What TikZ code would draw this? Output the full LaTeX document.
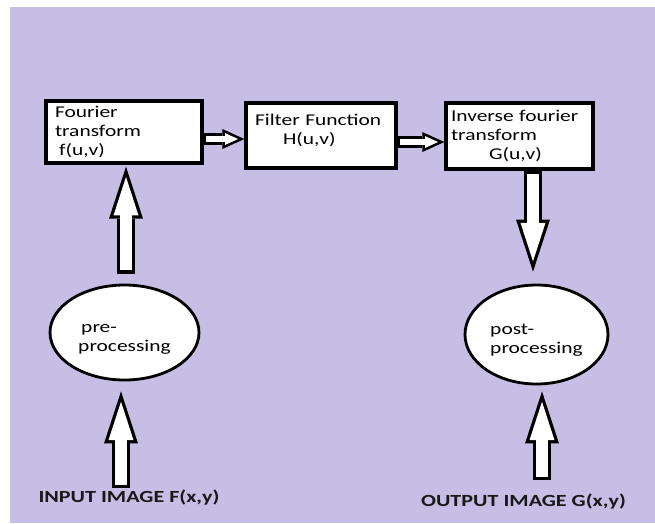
\documentclass[tikz,border=0pt]{standalone}
\usepackage{fontspec}
\setmainfont{Carlito}[FakeStretch=1.3]
\usepackage{tikz}
\usetikzlibrary{arrows.meta,shapes.geometric}
\definecolor{lavender}{RGB}{198,190,228}
\tikzset{
box/.style={draw=black, line width=3.3pt, fill=white, align=left, inner ysep=4pt, font=\fontsize{16.5}{19}\selectfont}, % the three transform boxes
blob/.style={ellipse, draw=black, line width=2.8pt, fill=white, align=left, inner sep=0pt, font=\fontsize{16.5}{19}\selectfont}, % pre / post processing
caption/.style={inner sep=0pt, text=black!90, font=\fontsize{17}{20}\selectfont\bfseries},
% hollow block arrows: black pass first, then the white inside
bigout/.style={line width=18pt, color=black, -{Triangle[length=52pt,width=34pt,line width=0pt]}},
bigin/.style={line width=11.5pt, color=white, shorten <=3.2pt, shorten >=10.3pt, -{Triangle[length=38.5pt,width=25pt,line width=0pt]}},
smallout/.style={line width=12pt, color=black, -{Triangle[length=22pt,width=20pt,line width=0pt]}},
smallin/.style={line width=6.5pt, color=white, shorten <=2.7pt, shorten >=6.3pt, -{Triangle[length=13pt,width=11.8pt,line width=0pt]}}
}
\begin{document}
\begin{tikzpicture}[x=1pt,y=-1pt]
    \useasboundingbox (0,0) rectangle (655,523);
    \fill[white] (0,0) rectangle (655,523);
    \fill[lavender] (10,7) rectangle (655,523);
    % boxes
    \node[box, minimum width=156pt, minimum height=62pt, text width=138pt, inner xsep=9pt] (ft) at (124,132) {Fourier\\transform\\\hspace{4pt}f(u,v)};
    \node[box, minimum width=150pt, minimum height=65pt, text width=132pt, inner xsep=9pt] (filt) at (321,135.5) {Filter Function\\\hspace{28pt}H(u,v)\rule[-12pt]{0pt}{12pt}};
    \node[box, minimum width=147pt, minimum height=66pt, text width=137pt, inner xsep=5pt] (ift) at (519.5,136) {Inverse fourier\\transform\\\hspace{38pt}G(u,v)};
    % ellipses
    \node[blob, minimum width=149pt, minimum height=95pt] (pre) at (124.5,332.5) {\rule{0pt}{22pt}\hspace{3pt}pre-\\processing};
    \node[blob, minimum width=143pt, minimum height=99pt] (post) at (536.5,334.5) {\rule{0pt}{22pt}post-\\processing};
    % captions
    \node[caption] (inlbl) at (129,498) {INPUT IMAGE F(x,y)};
    \node[caption] (outlbl) at (523.5,502) {OUTPUT IMAGE G(x,y)};
    \coordinate (intail) at (121,488);
    \coordinate (outtail) at (542,480);
    % arrows along the top
    \draw[smallout] ([yshift=-7pt]ft.east) -- ([yshift=-7pt]ft.east -| filt.west);
    \draw[smallin] ([yshift=-7pt]ft.east) -- ([yshift=-7pt]ft.east -| filt.west);
    \draw[smallout] ([yshift=-6.5pt]filt.east) -- ([yshift=-6.5pt]filt.east -| ift.west);
    \draw[smallin] ([yshift=-6.5pt]filt.east) -- ([yshift=-6.5pt]filt.east -| ift.west);
    % big vertical arrows
    \draw[bigout] ([xshift=13.5pt]ift.south) -- ([xshift=-3.5pt,yshift=12pt]post.north);
    \draw[bigin] ([xshift=13.5pt]ift.south) -- ([xshift=-3.5pt,yshift=12pt]post.north);
    \draw[bigout] ([xshift=1.5pt,yshift=10pt]pre.north) -- ([xshift=2pt,yshift=-2pt]ft.south);
    \draw[bigin] ([xshift=1.5pt,yshift=10pt]pre.north) -- ([xshift=2pt,yshift=-2pt]ft.south);
    \draw[bigout] (intail) -- ([yshift=-10pt]intail |- pre.south);
    \draw[bigin] (intail) -- ([yshift=-10pt]intail |- pre.south);
    \draw[bigout] (outtail) -- ([yshift=-6pt]outtail |- post.south);
    \draw[bigin] (outtail) -- ([yshift=-6pt]outtail |- post.south);
\end{tikzpicture}
\end{document}
